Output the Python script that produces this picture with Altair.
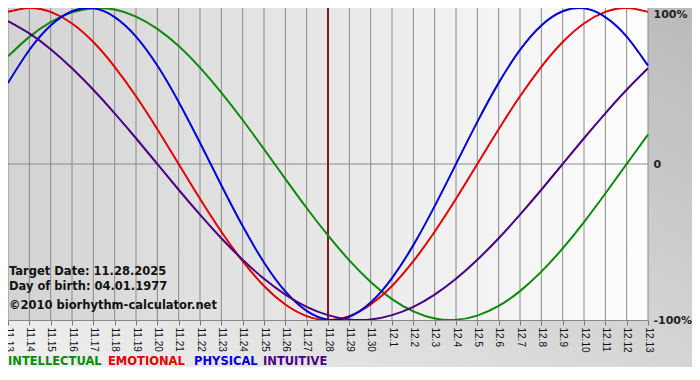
import altair as alt
import pandas as pd

# ---- data ----
dates = ["11.13", "11.14", "11.15", "11.16", "11.17", "11.18", "11.19", "11.20",
         "11.21", "11.22", "11.23", "11.24", "11.25", "11.26", "11.27", "11.28",
         "11.29", "11.30", "12.1", "12.2", "12.3", "12.4", "12.5", "12.6", "12.7",
         "12.8", "12.9", "12.10", "12.11", "12.12", "12.13"]

series_names = ["INTELLECTUAL", "EMOTIONAL", "PHYSICAL", "INTUITIVE"]
series_colors = ["#0a8a0a", "#e00000", "#0000d8", "#4b0082"]

intellectual = [0.690, 0.815, 0.910, 0.972, 0.999, 0.990, 0.945, 0.866, 0.756, 0.618,
                0.458, 0.282, 0.095, -0.095, -0.282, -0.458, -0.618, -0.756, -0.866,
                -0.945, -0.990, -0.999, -0.972, -0.910, -0.815, -0.690, -0.541,
                -0.372, -0.189, 0.000, 0.189]
emotional = [0.975, 1.000, 0.975, 0.901, 0.782, 0.623, 0.434, 0.223, 0.000, -0.223,
             -0.434, -0.623, -0.782, -0.901, -0.975, -1.000, -0.975, -0.901, -0.782,
             -0.623, -0.434, -0.223, 0.000, 0.223, 0.434, 0.623, 0.782, 0.901, 0.975,
             1.000, 0.975]
physical = [0.520, 0.731, 0.888, 0.979, 0.998, 0.942, 0.817, 0.631, 0.398, 0.136,
            -0.136, -0.398, -0.631, -0.817, -0.942, -0.998, -0.979, -0.888, -0.731,
            -0.520, -0.270, 0.000, 0.270, 0.520, 0.731, 0.888, 0.979, 0.998, 0.942,
            0.817, 0.631]
intuitive = [0.916, 0.837, 0.736, 0.614, 0.476, 0.325, 0.165, 0.000, -0.165, -0.325,
             -0.476, -0.614, -0.736, -0.837, -0.916, -0.969, -0.997, -0.997, -0.969,
             -0.916, -0.837, -0.736, -0.614, -0.476, -0.325, -0.165, 0.000, 0.165,
             0.325, 0.476, 0.614]

target_date = "11.28"
info_lines = ["Target Date: 11.28.2025", "Day of birth: 04.01.1977",
              "\u00a92010 biorhythm-calculator.net"]
y_ticks = [-1, 0, 1]

# ---- layout ----
W, H = 640, 312
PR, PB = 44, 47
FONT = "DejaVu Sans"

values = [intellectual, emotional, physical, intuitive]
rows = []
for name, vals in zip(series_names, values):
    for d, v in zip(dates, vals):
        rows.append({"date": d, "series": name, "value": v})
df = pd.DataFrame(rows)
one = pd.DataFrame({"a": [0]})

xscale = alt.Scale(type="point", domain=dates, padding=0)
yscale = alt.Scale(domain=[-1, 1], nice=False, zero=False)

xaxis = alt.Axis(title=None, labelAngle=90, labelFont="Liberation Sans", labelFontSize=10,
                 labelColor="#111111", tickColor="#777777", tickSize=5,
                 domainColor="#888888", grid=False, zindex=1, labelPadding=2,
                 labelOverlap=False)
yaxis = alt.Axis(orient="right", values=y_ticks, title=None, grid=False, ticks=False,
                 domain=False, labelFont=FONT, labelFontWeight="bold", labelFontSize=11,
                 labelColor="#222222", labelPadding=5, zindex=1,
                 labelExpr="datum.value == 0 ? '0' : (datum.value * 100) + '%'",
                 labelBaseline={"condition": {"test": "datum.value == 1", "value": "top"},
                                "value": "middle"})

X = alt.X("date:O", scale=xscale, axis=xaxis)
Y = alt.Y("value:Q", scale=yscale, axis=yaxis)

outer_grad = alt.LinearGradient(gradient="linear", x1=0, y1=1, x2=1, y2=0,
                                stops=[alt.GradientStop(color="#f0f0f0", offset=0),
                                       alt.GradientStop(color="#bababa", offset=1)])
plot_grad = alt.LinearGradient(gradient="linear", x1=0, y1=0, x2=1, y2=0,
                               stops=[alt.GradientStop(color="#d3d3d3", offset=0),
                                      alt.GradientStop(color="#fefefe", offset=1)])

outer = alt.Chart(one).mark_rect(fill=outer_grad).encode(
    x=alt.value(0), x2=alt.value(W + PR), y=alt.value(0), y2=alt.value(H + PB))
plotbg = alt.Chart(one).mark_rect(fill=plot_grad).encode(
    x=alt.value(0), x2=alt.value(W), y=alt.value(0), y2=alt.value(H))

grid = alt.Chart(pd.DataFrame({"date": dates})).mark_rule(
    color="#8a8a8a", strokeWidth=1).encode(x=X)
zero = alt.Chart(pd.DataFrame({"value": [0]})).mark_rule(
    color="#8a8a8a", strokeWidth=1).encode(y=Y)

lines = alt.Chart(df).mark_line(interpolate="natural", strokeWidth=2).encode(
    x=X, y=Y,
    color=alt.Color("series:N", scale=alt.Scale(domain=series_names, range=series_colors),
                    legend=None))

target = alt.Chart(pd.DataFrame({"date": [target_date]})).mark_rule(
    color="#7a1a1a", strokeWidth=2).encode(x=X)

layers = [outer, plotbg, grid, zero, target, lines]

info_y = [H - 48, H - 33, H - 14]
for txt, yy in zip(info_lines, info_y):
    layers.append(alt.Chart(pd.DataFrame({"t": [txt]})).mark_text(
        align="left", baseline="middle", font=FONT, fontWeight="bold", fontSize=11.5,
        color="#111111").encode(text="t:N", x=alt.value(1), y=alt.value(yy)))

legend_x = [0, 100, 186, 255]
for name, col, xx in zip(series_names, series_colors, legend_x):
    layers.append(alt.Chart(pd.DataFrame({"t": [name]})).mark_text(
        align="left", baseline="middle", font=FONT, fontWeight="bold", fontSize=11.5,
        color=col).encode(text="t:N", x=alt.value(xx), y=alt.value(H + 42)))

chart = alt.layer(*layers).properties(
    width=W, height=H,
    autosize=alt.AutoSizeParams(type="none"),
    padding={"left": 0, "top": 0, "right": PR, "bottom": PB},
    background="#ffffff",
).configure_view(stroke=None)

chart.save("out.html", embed_options={"renderer": "svg", "actions": False})
